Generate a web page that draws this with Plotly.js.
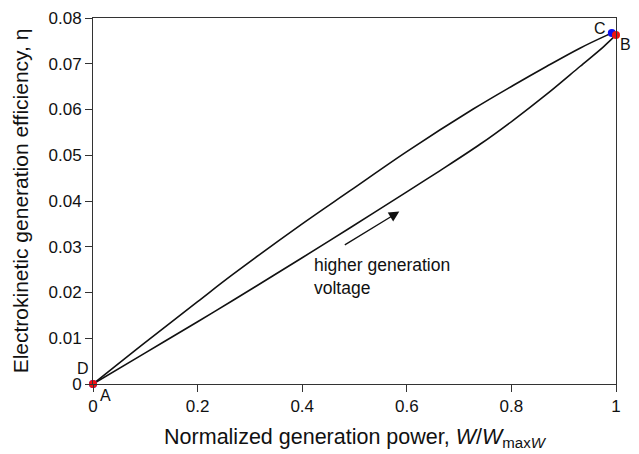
<!DOCTYPE html>
<html>
<head>
<meta charset="utf-8">
<script src="https://cdn.plot.ly/plotly-3.0.1.min.js"></script>
<style>html,body{margin:0;padding:0;background:#fff;}#chart{width:639px;height:454px;}</style>
</head>
<body>
<div id="chart"></div>
<script>
// Upper branch (D -> C)
var upperX = [0, 0.1, 0.2, 0.268, 0.4, 0.491, 0.6, 0.727, 0.804, 0.867, 0.931, 0.982, 0.992];
var upperY = [0, 0.0091, 0.0180, 0.0240, 0.0350, 0.0422, 0.0508, 0.0601, 0.0653, 0.0694, 0.0734, 0.0762, 0.0767];
// Lower branch (A -> B)
var lowerX = [0, 0.1, 0.2, 0.268, 0.4, 0.491, 0.6, 0.663, 0.740, 0.804, 0.867, 0.931, 0.976, 1.0];
var lowerY = [0, 0.0068, 0.0136, 0.0183, 0.0276, 0.0341, 0.0420, 0.0466, 0.0524, 0.0577, 0.0633, 0.0694, 0.0737, 0.0763];
// Marked points
var pointLabels = ['D', 'C', 'A', 'B'];
var pointX = [0, 0.992, 0, 1.0];
var pointY = [0, 0.0767, 0, 0.0763];
var pointColors = ['#1010ee', '#1010ee', '#ee1111', '#ee1111'];
// Arrow & note
var arrowTail = [0.4786, 0.0302];
var arrowHead = [0.5857, 0.0377];
var noteText = 'higher generation<br>voltage';
var notePos = [0.419, 0.0236];
var xTicks = [0, 0.2, 0.4, 0.6, 0.8, 1];
var xTickText = ['0', '0.2', '0.4', '0.6', '0.8', '1'];
var yTicks = [0, 0.01, 0.02, 0.03, 0.04, 0.05, 0.06, 0.07, 0.08];
var yTickText = ['0', '0.01', '0.02', '0.03', '0.04', '0.05', '0.06', '0.07', '0.08'];

var FONT = 'Liberation Sans, Arial, Helvetica, sans-serif';
var labelShift = {A: [12, -11], D: [-10, 16], C: [-12, 5], B: [9, -10]};

var traces = [
  {x: upperX, y: upperY, mode: 'lines', line: {color: '#111', width: 1.6, shape: 'spline', smoothing: 1}, hoverinfo: 'skip', cliponaxis: false},
  {x: lowerX, y: lowerY, mode: 'lines', line: {color: '#111', width: 1.6, shape: 'spline', smoothing: 1}, hoverinfo: 'skip', cliponaxis: false},
  {x: pointX, y: pointY, mode: 'markers', marker: {color: pointColors, size: 8}, cliponaxis: false, hoverinfo: 'skip'}
];

var annotations = pointLabels.map(function (lab, i) {
  return {x: pointX[i], y: pointY[i], xref: 'x', yref: 'y', text: lab, showarrow: false,
    xshift: labelShift[lab][0], yshift: labelShift[lab][1],
    font: {family: FONT, size: 16, color: '#111'}};
});
annotations.push({x: arrowHead[0], y: arrowHead[1], ax: arrowTail[0], ay: arrowTail[1],
  xref: 'x', yref: 'y', axref: 'x', ayref: 'y', text: '', showarrow: true,
  arrowhead: 2, arrowsize: 1.6, arrowwidth: 1.3, arrowcolor: '#111'});
annotations.push({x: notePos[0], y: notePos[1], xref: 'x', yref: 'y', text: noteText,
  showarrow: false, xanchor: 'left', yanchor: 'middle', align: 'left',
  font: {family: FONT, size: 17.5, color: '#111'}});

var layout = {
  width: 639, height: 454,
  margin: {l: 93, r: 23, t: 18, b: 70},
  paper_bgcolor: '#fff', plot_bgcolor: '#fff',
  showlegend: false,
  font: {family: FONT, color: '#111'},
  xaxis: {
    range: [0, 1], tickvals: xTicks, ticktext: xTickText,
    ticks: 'outside', ticklen: 7, tickwidth: 1, tickcolor: '#333',
    showline: true, linecolor: '#333', linewidth: 1, mirror: true,
    showgrid: false, zeroline: false,
    tickfont: {family: FONT, size: 17, color: '#111'},
    title: {text: 'Normalized generation power, <i>W</i>/<i>W</i><sub>max<i>W</i></sub>', font: {family: FONT, size: 21.5, color: '#111'}, standoff: 13}
  },
  yaxis: {
    range: [0, 0.08], tickvals: yTicks, ticktext: yTickText,
    ticks: 'outside', ticklen: 7, tickwidth: 1, tickcolor: '#333',
    showline: true, linecolor: '#333', linewidth: 1, mirror: true,
    showgrid: false, zeroline: false,
    tickfont: {family: FONT, size: 17, color: '#111'},
    title: {text: 'Electrokinetic generation efficiency, η', font: {family: FONT, size: 21, color: '#111'}, standoff: 14}
  },
  annotations: annotations
};

Plotly.newPlot('chart', traces, layout, {displayModeBar: false, staticPlot: true});
</script>
</body>
</html>
